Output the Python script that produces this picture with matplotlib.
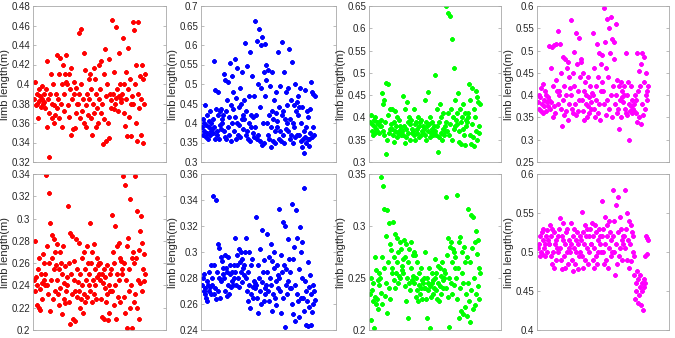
import numpy as np
import matplotlib
matplotlib.use("Agg")
import matplotlib.pyplot as plt

plt.rcParams['font.family'] = ['Liberation Sans', 'DejaVu Sans']

# limb length series (left to right)
red_top = [0.385, 0.402, 0.378, 0.39, 0.38, 0.365, 0.395, 0.383, 0.388, 0.376, 0.398, 0.385, 0.379, 0.39, 0.382,
           0.375, 0.395, 0.356, 0.424, 0.385, 0.37, 0.325, 0.39, 0.41, 0.365, 0.38, 0.4, 0.36, 0.378, 0.368,
           0.39, 0.43, 0.375, 0.385, 0.41, 0.365, 0.427, 0.38, 0.4, 0.356, 0.42, 0.372, 0.39, 0.41, 0.402, 0.43,
           0.4, 0.378, 0.41, 0.366, 0.395, 0.348, 0.416, 0.385, 0.354, 0.39, 0.402, 0.355, 0.37, 0.396, 0.38,
           0.38, 0.452, 0.39, 0.365, 0.456, 0.4, 0.372, 0.385, 0.432, 0.36, 0.414, 0.378, 0.356, 0.39, 0.368, 0.405,
           0.385, 0.41, 0.365, 0.395, 0.348, 0.38, 0.416, 0.37, 0.405, 0.356, 0.39, 0.375, 0.36, 0.42, 0.385,
           0.395, 0.424, 0.37, 0.38, 0.338, 0.41, 0.364, 0.436, 0.388, 0.342, 0.4, 0.36, 0.426, 0.345, 0.39, 0.375,
           0.384, 0.466, 0.39, 0.374, 0.412, 0.38, 0.458, 0.386, 0.395, 0.372, 0.432, 0.388, 0.4, 0.382, 0.385,
           0.39, 0.447, 0.37, 0.4, 0.357, 0.412, 0.385, 0.347, 0.437, 0.395, 0.366, 0.405, 0.347, 0.38, 0.388, 0.464,
           0.38, 0.455, 0.4, 0.36, 0.42, 0.342, 0.39, 0.464, 0.375, 0.408, 0.348, 0.385, 0.419, 0.34, 0.405, 0.38, 0.41]

blue_top = [0.39, 0.41, 0.37, 0.4, 0.38, 0.445, 0.365, 0.395, 0.42, 0.375, 0.36, 0.405, 0.39, 0.43, 0.37, 0.38, 0.4, 0.385,
            0.41, 0.375, 0.558, 0.39, 0.36, 0.485, 0.435, 0.38, 0.37, 0.48, 0.42, 0.358, 0.43, 0.395, 0.385, 0.435, 0.4, 0.41,
            0.42, 0.525, 0.38, 0.365, 0.51, 0.43, 0.36, 0.46, 0.39, 0.505, 0.415, 0.37, 0.555, 0.355, 0.445, 0.4, 0.52, 0.435, 0.48,
            0.38, 0.565, 0.415, 0.36, 0.465, 0.4, 0.54, 0.37, 0.44, 0.395, 0.49, 0.365, 0.45, 0.41, 0.53, 0.385, 0.42, 0.46,
            0.41, 0.605, 0.37, 0.43, 0.38, 0.545, 0.36, 0.47, 0.4, 0.582, 0.355, 0.42, 0.39, 0.52, 0.375, 0.415, 0.365, 0.47,
            0.39, 0.662, 0.42, 0.36, 0.61, 0.5, 0.37, 0.64, 0.44, 0.355, 0.6, 0.49, 0.343, 0.62, 0.4, 0.53, 0.35, 0.603, 0.47, 0.548, 0.51,
            0.4, 0.535, 0.37, 0.42, 0.36, 0.495, 0.39, 0.338, 0.43, 0.53, 0.355, 0.41, 0.46, 0.38, 0.35, 0.48, 0.425, 0.405,
            0.39, 0.583, 0.36, 0.44, 0.38, 0.495, 0.355, 0.42, 0.608, 0.37, 0.43, 0.53, 0.35, 0.41, 0.385, 0.48, 0.445, 0.4, 0.49,
            0.38, 0.59, 0.41, 0.36, 0.46, 0.37, 0.556, 0.4, 0.35, 0.445, 0.39, 0.5, 0.365, 0.43, 0.37, 0.455, 0.42, 0.47, 0.44,
            0.37, 0.49, 0.355, 0.4, 0.338, 0.44, 0.36, 0.38, 0.322, 0.485, 0.365, 0.39, 0.35, 0.43, 0.358, 0.415, 0.34, 0.36,
            0.375, 0.435, 0.505, 0.365, 0.48, 0.39, 0.475, 0.37, 0.47]

green_top = [0.39, 0.405, 0.37, 0.385, 0.36, 0.395, 0.38, 0.365, 0.4, 0.375, 0.39, 0.37, 0.385, 0.365, 0.39, 0.38, 0.395,
             0.38, 0.455, 0.37, 0.43, 0.36, 0.44, 0.39, 0.318, 0.478, 0.35, 0.475, 0.405, 0.365, 0.42, 0.375, 0.385,
             0.375, 0.42, 0.36, 0.39, 0.345, 0.415, 0.37, 0.38, 0.355, 0.4, 0.365, 0.395, 0.37, 0.38, 0.36, 0.375,
             0.37, 0.448, 0.36, 0.38, 0.342, 0.42, 0.375, 0.355, 0.435, 0.39, 0.365, 0.4, 0.35, 0.385, 0.395, 0.375, 0.365,
             0.37, 0.42, 0.36, 0.385, 0.35, 0.39, 0.375, 0.365, 0.4, 0.355, 0.38, 0.39, 0.36, 0.395, 0.37, 0.38, 0.365,
             0.375, 0.44, 0.36, 0.39, 0.35, 0.38, 0.37, 0.458, 0.385, 0.355, 0.4, 0.365, 0.375, 0.39, 0.36, 0.38, 0.37,
             0.37, 0.495, 0.36, 0.42, 0.38, 0.322, 0.39, 0.355, 0.43, 0.365, 0.4, 0.35, 0.41, 0.375, 0.36, 0.38, 0.37,
             0.39, 0.65, 0.37, 0.41, 0.635, 0.36, 0.385, 0.628, 0.42, 0.35, 0.577, 0.4, 0.375, 0.51, 0.38, 0.44, 0.395, 0.41,
             0.385, 0.455, 0.37, 0.345, 0.42, 0.39, 0.34, 0.4, 0.375, 0.43, 0.36, 0.338, 0.41, 0.38, 0.395, 0.39, 0.4,
             0.41, 0.475, 0.36, 0.44, 0.34, 0.385, 0.465, 0.355, 0.42, 0.335, 0.4, 0.46, 0.37, 0.445, 0.35, 0.435, 0.365, 0.38, 0.43]

magenta_top = [0.385, 0.4, 0.37, 0.395, 0.365, 0.415, 0.38, 0.36, 0.425, 0.375, 0.39, 0.41, 0.365, 0.4, 0.385, 0.375, 0.395,
               0.39, 0.51, 0.37, 0.46, 0.385, 0.507, 0.35, 0.42, 0.512, 0.375, 0.36, 0.435, 0.515, 0.41, 0.38, 0.545, 0.4,
               0.41, 0.515, 0.37, 0.45, 0.33, 0.485, 0.39, 0.42, 0.355, 0.48, 0.4, 0.365, 0.46, 0.345, 0.475, 0.38, 0.44, 0.415,
               0.4, 0.568, 0.37, 0.45, 0.36, 0.497, 0.42, 0.38, 0.54, 0.355, 0.47, 0.41, 0.365, 0.528, 0.39, 0.44, 0.475, 0.48,
               0.39, 0.45, 0.365, 0.41, 0.345, 0.43, 0.38, 0.4, 0.35, 0.44, 0.375, 0.395, 0.36, 0.42, 0.385, 0.37, 0.405,
               0.4, 0.54, 0.37, 0.46, 0.35, 0.42, 0.39, 0.515, 0.36, 0.44, 0.38, 0.495, 0.345, 0.41, 0.47, 0.43, 0.49,
               0.41, 0.595, 0.38, 0.52, 0.355, 0.46, 0.57, 0.39, 0.44, 0.55, 0.37, 0.495, 0.4, 0.575, 0.35, 0.525, 0.42, 0.48, 0.52,
               0.38, 0.56, 0.4, 0.36, 0.435, 0.37, 0.325, 0.42, 0.39, 0.35, 0.43, 0.395, 0.41, 0.385, 0.4, 0.42,
               0.37, 0.495, 0.36, 0.4, 0.355, 0.43, 0.38, 0.3, 0.365, 0.42, 0.375, 0.36, 0.39, 0.37, 0.38, 0.365, 0.4, 0.39,
               0.36, 0.495, 0.34, 0.41, 0.455, 0.35, 0.42, 0.335, 0.47, 0.38, 0.495, 0.355, 0.43, 0.485, 0.37, 0.4, 0.45, 0.39, 0.41, 0.42]

red_bot = [0.245, 0.28, 0.235, 0.248, 0.222, 0.24, 0.255, 0.22, 0.265, 0.237, 0.218, 0.25, 0.228, 0.242, 0.268, 0.245, 0.26, 0.24,
           0.25, 0.339, 0.24, 0.275, 0.232, 0.323, 0.26, 0.217, 0.296, 0.245, 0.265, 0.285, 0.228, 0.255, 0.282, 0.235, 0.27, 0.258,
           0.245, 0.277, 0.232, 0.255, 0.222, 0.27, 0.238, 0.26, 0.214, 0.25, 0.275, 0.228, 0.242, 0.257, 0.224, 0.235, 0.248,
           0.24, 0.311, 0.225, 0.26, 0.205, 0.287, 0.25, 0.232, 0.284, 0.21, 0.245, 0.262, 0.208, 0.235, 0.282, 0.23, 0.255, 0.243,
           0.235, 0.278, 0.22, 0.25, 0.228, 0.265, 0.24, 0.215, 0.27, 0.232, 0.255, 0.225, 0.245, 0.275, 0.23, 0.26, 0.24,
           0.25, 0.296, 0.235, 0.26, 0.225, 0.27, 0.245, 0.232, 0.277, 0.24, 0.255, 0.228, 0.265, 0.248, 0.258, 0.25, 0.26,
           0.245, 0.26, 0.228, 0.25, 0.212, 0.242, 0.255, 0.21, 0.238, 0.248, 0.225, 0.258, 0.232, 0.209, 0.24, 0.215, 0.235, 0.25,
           0.255, 0.303, 0.235, 0.27, 0.222, 0.26, 0.293, 0.24, 0.21, 0.275, 0.25, 0.23, 0.278, 0.245, 0.265, 0.225, 0.262, 0.255,
           0.25, 0.338, 0.23, 0.26, 0.215, 0.33, 0.245, 0.275, 0.202, 0.283, 0.235, 0.255, 0.22, 0.318, 0.24, 0.265, 0.202, 0.27, 0.225,
           0.26, 0.338, 0.232, 0.265, 0.22, 0.307, 0.245, 0.272, 0.21, 0.289, 0.242, 0.302, 0.235, 0.278, 0.255, 0.268, 0.244, 0.25]

blue_bot = [0.275, 0.28, 0.27, 0.283, 0.268, 0.272, 0.265, 0.278, 0.262, 0.275, 0.285, 0.27, 0.273, 0.29, 0.268, 0.28,
            0.275, 0.343, 0.268, 0.29, 0.272, 0.34, 0.264, 0.285, 0.306, 0.27, 0.28, 0.303, 0.265, 0.296, 0.278, 0.293, 0.283, 0.288,
            0.28, 0.298, 0.27, 0.288, 0.266, 0.285, 0.275, 0.296, 0.268, 0.283, 0.29, 0.273, 0.278, 0.285, 0.275, 0.29, 0.28,
            0.285, 0.311, 0.275, 0.298, 0.29, 0.28, 0.302, 0.273, 0.292, 0.285, 0.3, 0.277, 0.295, 0.288, 0.282, 0.29, 0.3,
            0.28, 0.311, 0.27, 0.285, 0.262, 0.3, 0.275, 0.257, 0.29, 0.268, 0.295, 0.273, 0.265, 0.278, 0.272, 0.276,
            0.275, 0.327, 0.265, 0.29, 0.253, 0.28, 0.302, 0.27, 0.26, 0.317, 0.277, 0.285, 0.262, 0.294, 0.272, 0.268, 0.275,
            0.285, 0.314, 0.27, 0.296, 0.262, 0.28, 0.306, 0.275, 0.255, 0.293, 0.268, 0.288, 0.3, 0.265, 0.278, 0.259, 0.29, 0.272, 0.282,
            0.28, 0.333, 0.27, 0.298, 0.253, 0.285, 0.323, 0.265, 0.29, 0.242, 0.32, 0.275, 0.287, 0.268, 0.31, 0.278, 0.295, 0.272, 0.285,
            0.272, 0.337, 0.26, 0.295, 0.252, 0.304, 0.275, 0.247, 0.332, 0.268, 0.311, 0.262, 0.287, 0.25, 0.319, 0.265, 0.3, 0.28, 0.308,
            0.265, 0.349, 0.255, 0.278, 0.244, 0.27, 0.262, 0.292, 0.243, 0.273, 0.258, 0.282, 0.244, 0.268, 0.254, 0.275, 0.26, 0.27, 0.263]

green_bot = [0.235, 0.25, 0.21, 0.238, 0.228, 0.245, 0.202, 0.232, 0.27, 0.225, 0.258, 0.23, 0.22, 0.248, 0.255, 0.243,
             0.25, 0.347, 0.236, 0.27, 0.225, 0.338, 0.26, 0.316, 0.233, 0.29, 0.245, 0.315, 0.216, 0.265, 0.303, 0.24, 0.283, 0.23, 0.277, 0.255,
             0.26, 0.304, 0.248, 0.27, 0.24, 0.292, 0.255, 0.265, 0.288, 0.245, 0.275, 0.252, 0.285, 0.25, 0.278, 0.258, 0.262, 0.268,
             0.255, 0.287, 0.242, 0.27, 0.228, 0.283, 0.25, 0.212, 0.265, 0.245, 0.278, 0.238, 0.26, 0.285, 0.248, 0.272, 0.252, 0.275,
             0.245, 0.272, 0.232, 0.25, 0.238, 0.265, 0.228, 0.243, 0.255, 0.235, 0.26, 0.24, 0.248, 0.23, 0.245, 0.25, 0.24,
             0.24, 0.275, 0.23, 0.25, 0.212, 0.245, 0.238, 0.26, 0.202, 0.242, 0.232, 0.255, 0.245, 0.235, 0.248, 0.24,
             0.25, 0.268, 0.238, 0.255, 0.23, 0.262, 0.245, 0.228, 0.26, 0.242, 0.252, 0.235, 0.265, 0.248, 0.24, 0.258, 0.25,
             0.255, 0.328, 0.24, 0.272, 0.232, 0.288, 0.25, 0.203, 0.28, 0.245, 0.285, 0.235, 0.265, 0.278, 0.243, 0.275, 0.26, 0.27,
             0.25, 0.33, 0.23, 0.26, 0.212, 0.285, 0.24, 0.289, 0.218, 0.255, 0.275, 0.215, 0.245, 0.28, 0.222, 0.265, 0.235, 0.27, 0.213,
             0.245, 0.316, 0.228, 0.265, 0.208, 0.311, 0.238, 0.279, 0.22, 0.309, 0.25, 0.285, 0.224, 0.295, 0.235, 0.273, 0.242, 0.287,
             0.23, 0.26, 0.255]

magenta_bot = [0.505, 0.51, 0.495, 0.52, 0.5, 0.525, 0.498, 0.515, 0.53, 0.505, 0.51, 0.495, 0.52, 0.528, 0.5, 0.515, 0.51,
               0.51, 0.535, 0.495, 0.52, 0.485, 0.53, 0.5, 0.48, 0.525, 0.51, 0.49, 0.515, 0.505, 0.52, 0.5, 0.53,
               0.505, 0.543, 0.49, 0.52, 0.478, 0.515, 0.537, 0.495, 0.51, 0.48, 0.525, 0.5, 0.53, 0.485, 0.515, 0.505, 0.5,
               0.51, 0.537, 0.49, 0.52, 0.475, 0.505, 0.53, 0.485, 0.515, 0.5, 0.525, 0.478, 0.51, 0.495, 0.52, 0.5,
               0.515, 0.551, 0.495, 0.525, 0.48, 0.51, 0.535, 0.49, 0.52, 0.505, 0.53, 0.485, 0.52, 0.5, 0.53, 0.51,
               0.51, 0.537, 0.49, 0.52, 0.48, 0.505, 0.535, 0.495, 0.525, 0.485, 0.515, 0.5, 0.53, 0.51, 0.52, 0.5,
               0.52, 0.565, 0.5, 0.53, 0.485, 0.545, 0.51, 0.49, 0.535, 0.52, 0.48, 0.54, 0.505, 0.525, 0.495, 0.515, 0.5,
               0.52, 0.58, 0.5, 0.54, 0.47, 0.56, 0.51, 0.485, 0.57, 0.525, 0.495, 0.545, 0.505, 0.53, 0.49, 0.515, 0.52, 0.51,
               0.52, 0.58, 0.505, 0.53, 0.49, 0.55, 0.515, 0.48, 0.54, 0.51, 0.535, 0.488, 0.525, 0.5, 0.52, 0.495,
               0.47, 0.44, 0.46, 0.45, 0.475, 0.435, 0.465, 0.445, 0.455, 0.47, 0.432, 0.46, 0.45, 0.426, 0.465, 0.455, 0.46,
               0.495, 0.52, 0.497, 0.518, 0.515]

series = [red_top, blue_top, green_top, magenta_top, red_bot, blue_bot, green_bot, magenta_bot]
colors = ['#ff0000', '#0000ff', '#00ff00', '#ff00ff'] * 2
ylims = [(0.32, 0.48), (0.3, 0.7), (0.3, 0.65), (0.25, 0.6),
         (0.2, 0.34), (0.24, 0.36), (0.2, 0.35), (0.4, 0.6)]
ysteps = [0.02, 0.05, 0.05, 0.05, 0.02, 0.02, 0.05, 0.05]

W, H = 675, 338
lefts = [33, 201, 369, 537]
rights = [166, 336, 501, 669]
tops = [6, 174]
ph = 156

fig = plt.figure(figsize=(6.75, 3.38), dpi=100)
for i, vals in enumerate(series):
    row, col = divmod(i, 4)
    l, r = lefts[col], rights[col]
    ax = fig.add_axes([l / W, 1 - (tops[row] + ph) / H, (r - l) / W, ph / H])
    x = np.arange(1, len(vals) + 1)
    ax.plot(x, vals, marker=(8, 2, 0), linestyle='none', color=colors[i],
            markersize=3.1, markeredgewidth=1.0)
    lo, hi = ylims[i]
    ticks = np.arange(lo, hi + 1e-9, ysteps[i])
    ax.set_xlim(-1, len(vals) * 1.19)
    ax.set_ylim(lo, hi)
    ax.set_yticks(ticks)
    ax.set_yticklabels(['%g' % round(t, 2) for t in ticks])
    ax.set_xticks([])
    ax.tick_params(axis='y', direction='in', length=2.5, width=0.5, labelsize=7,
                   colors='#a0a0a0', labelcolor='#262626', right=True, pad=2)
    for s in ax.spines.values():
        s.set_color('#a8a8a8')
        s.set_linewidth(0.6)
    ax.set_ylabel('limb length(m)', fontsize=8, color='#262626', labelpad=1)

fig.savefig('out.png', dpi=100)
